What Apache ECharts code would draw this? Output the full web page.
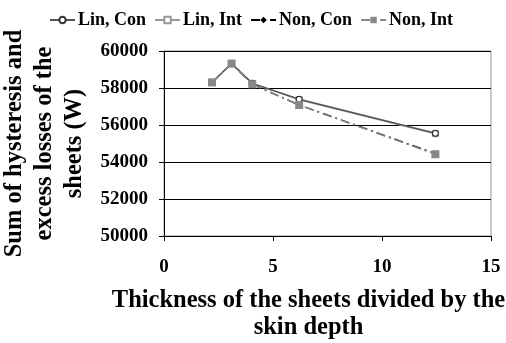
<!DOCTYPE html>
<html>
<head>
<meta charset="utf-8">
<script src="https://cdn.jsdelivr.net/npm/echarts@6/dist/echarts.min.js"></script>
<style>
html,body{margin:0;padding:0;background:#fff;}
#chart{width:506px;height:343px;}
</style>
</head>
<body>
<div id="chart"></div>
<script>
// Thickness / skin depth ratio for each sheet configuration
const ratio = [2.2, 3.1, 4.05, 6.2, 12.45];
// Summed hysteresis + excess losses (W)
const linCon = [58300, 59320, 58250, 57390, 55550];
const linInt = [58300, 59320, 58250, 57370, 55530];
const nonCon = [58300, 59320, 58200, 57080, 54450];
const nonInt = [58300, 59320, 58200, 57080, 54420];
const seriesNames = ['Lin, Con', 'Lin, Int', 'Non, Con', 'Non, Int'];
const yTicks = [50000, 52000, 54000, 56000, 58000, 60000];
const xTicks = [0, 5, 10, 15];

const font = 'Liberation Serif, Times New Roman, serif';
const pairs = vals => ratio.map((x, i) => [x, vals[i]]);
const dashDot = [9, 4, 2, 4];

const chart = echarts.init(document.getElementById('chart'), null, {renderer: 'canvas'});
chart.setOption({
  animation: false,
  backgroundColor: '#fff',
  legend: {
    top: 6,
    left: 44,
    itemWidth: 25,
    itemHeight: 8,
    itemGap: 8,
    textStyle: {fontFamily: font, fontWeight: 'bold', fontSize: 18, color: '#000', padding: [0, 0, 0, -2]},
    data: seriesNames
  },
  grid: {
    left: 164, right: 15, top: 51, bottom: 107,
    containLabel: false, outerBoundsMode: 'none',
    show: true, borderColor: '#999', borderWidth: 1, backgroundColor: 'transparent'
  },
  xAxis: {
    type: 'value',
    min: xTicks[0], max: xTicks[xTicks.length - 1], interval: 5,
    name: 'Thickness of the sheets divided by the\nskin depth',
    nameLocation: 'middle',
    nameGap: 51,
    nameTextStyle: {fontFamily: font, fontWeight: 'bold', fontSize: 24.5, color: '#000', lineHeight: 27, verticalAlign: 'top', padding: [0, 38, 0, 0]},
    axisLine: {show: true, lineStyle: {color: '#000', width: 1}},
    axisTick: {show: true, inside: false, length: 5, lineStyle: {color: '#000'}},
    axisLabel: {fontFamily: font, fontWeight: 'bold', fontSize: 19, color: '#000', margin: 22},
    splitLine: {show: false}
  },
  yAxis: {
    type: 'value',
    min: yTicks[0], max: yTicks[yTicks.length - 1], interval: 2000,
    name: 'Sum of hysteresis and\nexcess losses of the\nsheets (W)',
    nameLocation: 'middle',
    nameRotate: 90,
    nameGap: 70,
    nameTextStyle: {fontFamily: font, fontWeight: 'bold', fontSize: 24.5, color: '#000', lineHeight: 30},
    axisLine: {show: true, lineStyle: {color: '#000', width: 1}},
    axisTick: {show: true, inside: false, length: 5, lineStyle: {color: '#000'}},
    axisLabel: {fontFamily: font, fontWeight: 'bold', fontSize: 19, color: '#000', margin: 16, formatter: v => String(v)},
    splitLine: {show: true, lineStyle: {color: '#000', width: 1}}
  },
  series: [
    {
      name: seriesNames[0], type: 'line', data: pairs(linCon),
      symbol: 'circle', symbolSize: 6, z: 5,
      lineStyle: {color: '#555', width: 1.5},
      itemStyle: {color: '#fff', borderColor: '#333', borderWidth: 1.2}
    },
    {
      name: seriesNames[1], type: 'line', data: pairs(linInt),
      symbol: 'rect', symbolSize: 6, z: 4,
      lineStyle: {color: '#999', width: 1.5},
      itemStyle: {color: '#fff', borderColor: '#999', borderWidth: 1}
    },
    {
      name: seriesNames[2], type: 'line', data: pairs(nonCon),
      symbol: 'diamond', symbolSize: 6, z: 3,
      lineStyle: {color: '#000', width: 1.5, type: dashDot},
      itemStyle: {color: '#000'}
    },
    {
      name: seriesNames[3], type: 'line', data: pairs(nonInt),
      symbol: 'rect', symbolSize: 8, z: 6,
      lineStyle: {color: '#888', width: 1.5, type: dashDot},
      itemStyle: {color: '#888'}
    }
  ]
});
</script>
</body>
</html>
